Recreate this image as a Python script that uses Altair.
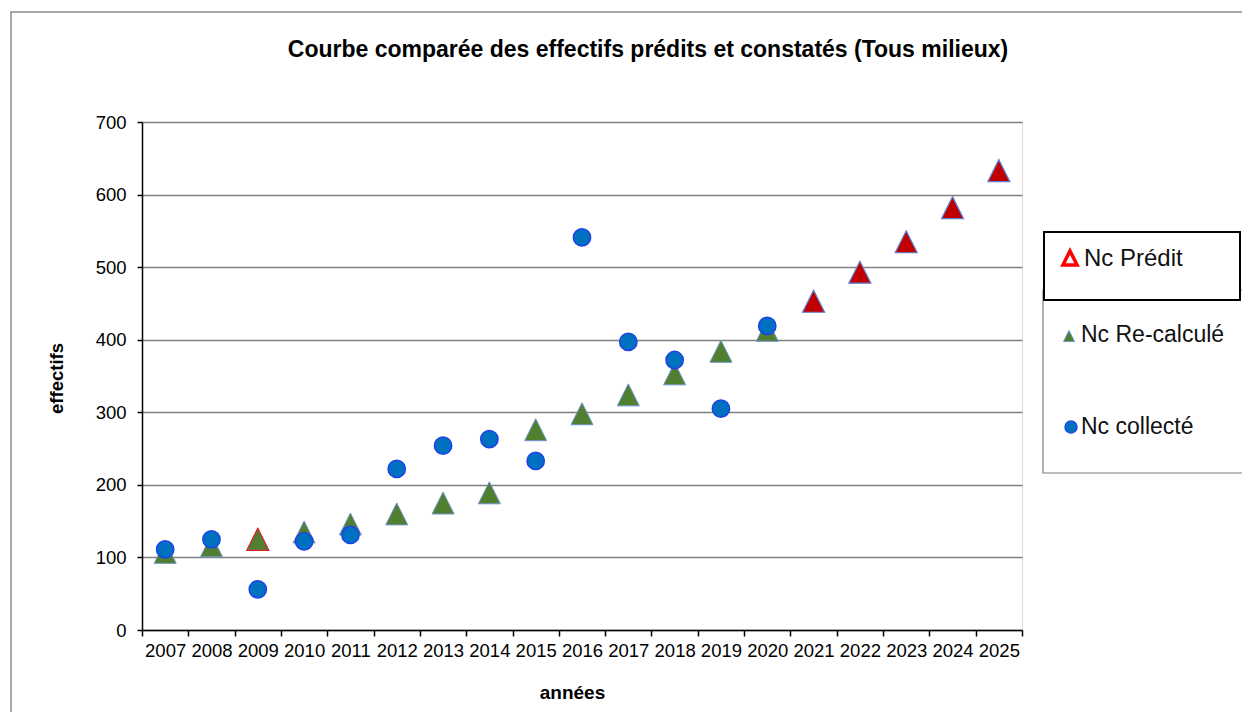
import altair as alt
import pandas as pd

# ---- data ----
years = [str(y) for y in range(2007, 2026)]
collecte_years = [str(y) for y in range(2007, 2021)]
collecte = [111, 125, 56, 122, 131, 222, 254, 263, 233, 541, 397, 372, 305, 419]
recalc_years = [str(y) for y in range(2007, 2021)]
recalcule = [107, 116, 125, 135, 146, 160, 175, 189, 276, 298, 324, 353, 384, 413]
predit_years = ["2009", "2021", "2022", "2023", "2024", "2025"]
predit = [125, 453, 493, 535, 582, 633]
legend_labels = ["Nc Prédit", "Nc Re-calculé", "Nc collecté"]

TITLE = "Courbe comparée des effectifs prédits et constatés (Tous milieux)"
FONT = "Liberation Sans"
W, H = 880, 508
TRI = "M0,-1L1,1L-1,1Z"

df_c = pd.DataFrame({"annee": collecte_years, "v": collecte})
df_r = pd.DataFrame({"annee": recalc_years, "v": recalcule})
df_p = pd.DataFrame({"annee": predit_years, "v": predit})
df_p["filled"] = df_p["annee"].astype(int) > 2020

xscale = alt.Scale(domain=years, paddingInner=0, paddingOuter=0)
xenc = alt.X(
    "annee:N",
    scale=xscale,
    axis=alt.Axis(
        title="années", labelAngle=0, tickBand="extent", grid=False,
        domainColor="#000000", domainWidth=1.5, tickColor="#000000", tickWidth=1.5,
        tickSize=6, labelPadding=5, labelFontSize=18.5, labelFont=FONT,
        labelColor="#000000", titleFont=FONT, titleFontSize=19, titleFontWeight="bold",
        titleColor="#000000", titleX=430, titleY=62, titleBaseline="middle",
    ),
)
yscale = alt.Scale(domain=[0, 700], nice=False, zero=True)
yenc = alt.Y(
    "v:Q",
    scale=yscale,
    axis=alt.Axis(
        title="effectifs", values=list(range(0, 701, 100)), grid=True,
        gridColor="#808080", gridWidth=1.5, domainColor="#000000", domainWidth=1.5,
        tickColor="#000000", tickWidth=1.5, tickSize=5, labelPadding=11,
        labelFontSize=18.5, labelFont=FONT, labelColor="#000000",
        titleFont=FONT, titleFontSize=18.5, titleFontWeight="bold", titleColor="#000000",
        titleX=-86, titleY=H / 2 + 2, titleBaseline="middle",
    ),
)

one = pd.DataFrame({"k": [0]})

frame = alt.Chart(one).mark_rect(
    fill="transparent", stroke="#8c8c8c", strokeWidth=1.5
).encode(x=alt.value(-131), x2=alt.value(1130), y=alt.value(-110), y2=alt.value(640))

title = alt.Chart(pd.DataFrame({"t": [TITLE]})).mark_text(
    font=FONT, fontSize=23, fontWeight="bold", color="#000000", align="center", baseline="middle"
).encode(x=alt.value(506), y=alt.value(-72), text="t:N")

green = alt.Chart(df_r).mark_point(
    shape=TRI, size=484, filled=True, fill="#4F7F2F", stroke="#6F93CF", strokeWidth=1, opacity=1
).encode(x=xenc, y=yenc)

pred = alt.Chart(df_p).mark_point(
    shape=TRI, size=484, strokeWidth=1.2, opacity=1
).encode(
    x=alt.X("annee:N", scale=xscale),
    y=alt.Y("v:Q", scale=yscale),
    fill=alt.condition("datum.filled", alt.value("#C00000"), alt.value("transparent")),
    stroke=alt.condition("datum.filled", alt.value("#5B7FD0"), alt.value("#E02020")),
)

blue = alt.Chart(df_c).mark_point(
    shape="circle", size=300, filled=True, fill="#0070C0", stroke="#2040E8", strokeWidth=1.5, opacity=1
).encode(
    x=alt.X("annee:N", scale=xscale),
    y=alt.Y("v:Q", scale=yscale),
)

# ---- legend (decoration) ----
box_low = alt.Chart(one).mark_rect(fill="white", stroke="#7f7f7f", strokeWidth=1.2).encode(
    x=alt.value(901), x2=alt.value(1101), y=alt.value(168), y2=alt.value(351))
box_up = alt.Chart(one).mark_rect(fill="white", stroke="#000000", strokeWidth=2).encode(
    x=alt.value(902), x2=alt.value(1098), y=alt.value(110), y2=alt.value(178))
sym_p = alt.Chart(one).mark_point(shape=TRI, size=200, filled=False, stroke="#FF0000",
                                  strokeWidth=3.5, opacity=1).encode(
    x=alt.value(928), y=alt.value(136))
sym_r = alt.Chart(one).mark_point(shape=TRI, size=121, filled=True, fill="#4F7F2F",
                                  stroke="#6F93CF", strokeWidth=1, opacity=1).encode(
    x=alt.value(927), y=alt.value(214))
sym_c = alt.Chart(one).mark_point(shape="circle", size=150, filled=True, fill="#0070C0",
                                  stroke="#2040E8", strokeWidth=1.2, opacity=1).encode(
    x=alt.value(929), y=alt.value(305))
ys = [137, 213, 305]
sizes = [24, 23, 23]
xs = [942, 939, 939]
txts = []
for lab, yy, fs, xx in zip(legend_labels, ys, sizes, xs):
    txts.append(
        alt.Chart(pd.DataFrame({"t": [lab]})).mark_text(
            align="left", baseline="middle", font=FONT, fontSize=fs, color="#111111"
        ).encode(x=alt.value(xx), y=alt.value(yy), text="t:N")
    )

chart = alt.layer(
    frame, title, green, pred, blue, box_low, box_up, sym_p, sym_r, sym_c, *txts
).properties(
    width=W, height=H,
    autosize=alt.AutoSizeParams(type="none"),
    padding={"left": 134, "top": 114, "right": 220, "bottom": 82},
).configure_view(stroke="#808080", strokeWidth=1.5).configure(background="white")

chart.save("out.html", embed_options={"renderer": "svg", "actions": False})
